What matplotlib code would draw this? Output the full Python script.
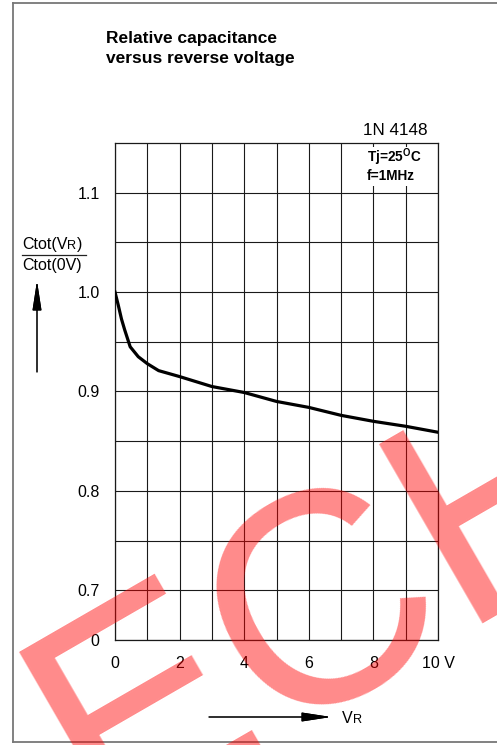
"""
Relative capacitance versus reverse voltage (1N 4148 datasheet figure).

Output: out.png (497 x 745 px)
"""

import matplotlib
matplotlib.use("Agg")
import matplotlib.pyplot as plt
import matplotlib.transforms as mtransforms
from matplotlib.lines import Line2D
from matplotlib.patches import Rectangle

plt.rcParams["font.family"] = ["Liberation Sans", "DejaVu Sans"]
plt.rcParams["mathtext.fontset"] = "custom"
plt.rcParams["mathtext.rm"] = "Liberation Sans"
plt.rcParams["mathtext.bf"] = "Liberation Sans:bold"

# Curve
v_r = [0, 0.1, 0.2, 0.3, 0.47, 0.72, 1.0, 1.35, 2.0, 3.0, 4.0, 5.0, 6.0, 7.0, 8.0, 9.0, 10.0]
c_rel = [1.0, 0.987, 0.973, 0.962, 0.945, 0.935, 0.928, 0.921, 0.915, 0.905,
         0.899, 0.890, 0.884, 0.876, 0.870, 0.865, 0.859]

# Axes (the y axis is broken: the bottom line is labelled 0)
x_ticks = [0, 2, 4, 6, 8, 10]
x_tick_labels = ["0", "2", "4", "6", "8", "10 V"]
x_grid_minor = [1, 3, 5, 7, 9]
y_ticks = [0.65, 0.7, 0.8, 0.9, 1.0, 1.1]
y_tick_labels = ["0", "0.7", "0.8", "0.9", "1.0", "1.1"]
y_grid_minor = [0.75, 0.85, 0.95, 1.05]

W, H = 497, 745


def fx(x):
    return x / W


def fy(y):
    return 1 - y / H


fig = plt.figure(figsize=(W / 100, H / 100), dpi=100)

# outer frame (runs off the right edge)
frame = dict(color="#777777", lw=1.3)
fig.add_artist(Line2D([fx(13), fx(13)], [fy(3), fy(742)], **frame))
fig.add_artist(Line2D([fx(13), 1.0], [fy(3), fy(3)], **frame))
fig.add_artist(Line2D([fx(13), 1.0], [fy(742), fy(742)], **frame))

ax = fig.add_axes([fx(115), fy(640), fx(438) - fx(115), fy(143) - fy(640)])
ax.set_xlim(0, 10)
ax.set_ylim(0.65, 1.15)
ax.set_xticks(x_ticks, [""] * len(x_ticks))
ax.set_xticks(x_grid_minor, minor=True)
ax.set_yticks(y_ticks, y_tick_labels)
ax.set_yticks(y_grid_minor, minor=True)
ax.tick_params(which="both", length=0)
ax.tick_params(axis="y", pad=11, labelsize=11.5)
ax.set_axisbelow(True)
ax.grid(which="both", color="#1a1a1a", lw=0.8)
for sp in ax.spines.values():
    sp.set_color("#1a1a1a")
    sp.set_linewidth(0.9)

# x tick labels under the box
lab_tr = mtransforms.blended_transform_factory(ax.transData, fig.transFigure)
for xv, lab in zip(x_ticks, x_tick_labels):
    ax.text(xv, fy(663), lab, transform=lab_tr, ha="center", va="center",
            fontsize=11.5)

# white box for the conditions, top right
ax.add_patch(Rectangle((7.65, 1.107), 10 - 7.65 - 0.03, 1.146 - 1.107,
                       facecolor="white", edgecolor="none", zorder=1))
ax.text(7.8, 1.1305, "Tj=25$^{\\mathbf{O}}$C", fontsize=9.8, fontweight="bold",
        va="baseline", zorder=4)
ax.text(7.8, 1.1125, "f=1MHz", fontsize=9.8, fontweight="bold",
        va="baseline", zorder=4)

ax.plot(v_r, c_rel, color="black", lw=2.3, zorder=3)

# titles
fig.text(fx(106), fy(43.5), "Relative capacitance", fontsize=12.5,
         fontweight="bold", va="baseline")
fig.text(fx(106), fy(63), "versus reverse voltage", fontsize=12.5,
         fontweight="bold", va="baseline")
fig.text(fx(363), fy(135), "1N 4148", fontsize=12.3, va="baseline")

# y label: Ctot(VR) / Ctot(0V) with a small R
renderer = fig.canvas.get_renderer()


def text_run(x, y, parts):
    """Draw text pieces one after another on a common baseline."""
    for s, size in parts:
        t = fig.text(x, y, s, fontsize=size, va="baseline")
        bb = t.get_window_extent(renderer)
        x = bb.x1 / fig.bbox.width
    return x


text_run(fx(22), fy(249), [("Ctot(V", 11.5), ("R", 9.2), (")", 11.5)])
text_run(fx(22), fy(270), [("Ctot(0V)", 11.5)])
fig.add_artist(Line2D([fx(22), fx(86)], [fy(254.5), fy(254.5)],
                      color="#222222", lw=0.9))

ax_arrow = dict(arrowstyle="-|>,head_length=1.3,head_width=0.2",
                color="black", lw=0.8, shrinkA=0, shrinkB=0, mutation_scale=14)
fig.add_artist(plt.annotate("", xy=(37, H - 281), xytext=(37, H - 372),
                            xycoords="figure pixels", arrowprops=ax_arrow))
fig.add_artist(plt.annotate("", xy=(331, H - 717), xytext=(209, H - 717),
                            xycoords="figure pixels", arrowprops=ax_arrow))
text_run(fx(342), fy(723), [("V", 11.5), ("R", 9.2)])

# red watermark
fig.text(fx(98), fy(831), "ECH", fontsize=216, color="red", alpha=0.46,
         rotation=30, rotation_mode="anchor", ha="left", va="baseline",
         zorder=10)

fig.savefig("out.png", dpi=100)
